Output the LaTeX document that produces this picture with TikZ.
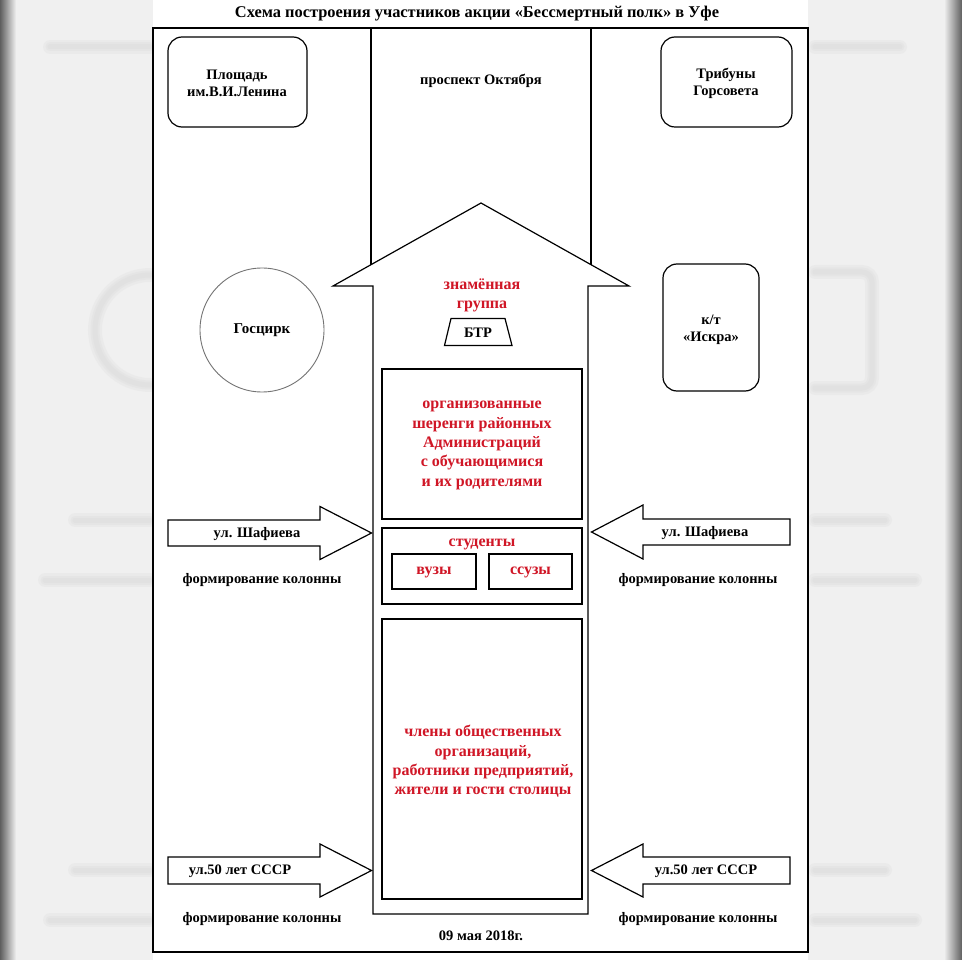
\documentclass[tikz,border=0pt]{standalone}
\usepackage{fontspec}
\setmainfont{Liberation Serif}
\definecolor{redtxt}{RGB}{208,22,38}
\definecolor{bggray}{RGB}{240,240,240}
\definecolor{edgegray}{RGB}{95,95,95}
\definecolor{ghost}{RGB}{200,200,200}
\begin{document}
\begin{tikzpicture}[x=1pt,y=-1pt,
  pageframe/.style={draw=black,line width=1.3pt},
  outl/.style={draw=black,line width=1.2pt,line join=miter},
  blk/.style={font=\bfseries\fontsize{14.5}{17.5}\selectfont,align=center,inner sep=0pt,text=black},
  redt/.style={font=\bfseries\fontsize{16}{19.4}\selectfont,align=center,inner sep=0pt,text=redtxt},
  ghostline/.style={draw=ghost,line cap=round,opacity=0.13}]
\useasboundingbox (0,0) rectangle (962,960);
% background outside the page (blurred copy)
\fill[bggray] (0,0) rectangle (962,960);
\foreach \w in {14,9,5}{
  \draw[ghostline,line width=\w pt] (50,47) -- (150,47);
  \draw[ghostline,line width=\w pt] (75,520) -- (150,520);
  \draw[ghostline,line width=\w pt] (45,580) -- (150,580);
  \draw[ghostline,line width=\w pt] (75,870) -- (150,870);
  \draw[ghostline,line width=\w pt] (50,920) -- (150,920);
  \draw[ghostline,line width=\w pt] (815,47) -- (900,47);
  \draw[ghostline,line width=\w pt] (815,520) -- (885,520);
  \draw[ghostline,line width=\w pt] (815,580) -- (915,580);
  \draw[ghostline,line width=\w pt] (815,870) -- (885,870);
  \draw[ghostline,line width=\w pt] (815,920) -- (915,920);
  \draw[ghostline,line width=\w pt] (150,275) arc[start angle=-90,end angle=-270,radius=55];
  \draw[ghostline,line width=\w pt,rounded corners=10pt] (815,272) -- (872,272) -- (872,388) -- (815,388);
}
\shade[left color=edgegray,right color=bggray] (0,0) rectangle (16,960);
\shade[left color=bggray,right color=edgegray] (944,0) rectangle (962,960);
\fill[white] (153,0) rectangle (808,960);
% title
\node[blk,font=\bfseries\fontsize{16.4}{19}\selectfont] (title) at (477,14) {Схема построения участников акции «Бессмертный полк» в Уфе};
% frame
\draw[pageframe] (153,28) rectangle (808,952);
% street lines
\draw[outl] (371,28) -- (371,264.7);
\draw[outl] (591,28) -- (591,264.7);
% top boxes
\draw[outl,rounded corners=14pt] (168,37) rectangle (307,127);
\node[blk] (ploshchad) at (237,83.5) {Площадь\\им.В.И.Ленина};
\node[blk] (prospekt) at (481,81) {проспект Октября};
\draw[outl,rounded corners=14pt] (661,37) rectangle (792,127);
\node[blk] (tribuny) at (726,83.5) {Трибуны\\Горсовета};
% circle
\draw[draw=gray!90!black,line width=0.9pt] (262,330) circle (62);
\node[blk,font=\bfseries\fontsize{15}{17.5}\selectfont] (gostsirk) at (262,330) {Госцирк};
% right rounded box
\draw[outl,rounded corners=14pt] (663,264) rectangle (759,391);
\node[blk] (iskra) at (711,330) {к/т\\«Искра»};
% big arrow
\draw[outl] (373,914) -- (373,286) -- (333,286) -- (481,203) -- (629,286) -- (588,286) -- (588,914) -- cycle;
\node[redt] (znam) at (482,295.5) {знамённая\\группа};
\draw[outl] (451,318.5) -- (505,318.5) -- (512,345.5) -- (444.5,345.5) -- cycle;
\node[blk] (btr) at (478,333) {БТР};
% inner boxes
\draw[outl] (382,369) rectangle (582,519);
\node[redt] (org) at (482,445.5) {организованные\\шеренги районных\\Администраций\\ с обучающимися\\и их родителями};
\draw[outl] (382,528) rectangle (582,604);
\node[redt] (stud) at (482,544.5) {студенты};
\draw[outl] (392,554) rectangle (476,589);
\node[redt] (vuzy) at (434,572) {вузы};
\draw[outl] (489,554) rectangle (572,589);
\node[redt] (ssuzy) at (530.5,572) {ссузы};
\draw[outl] (382,619) rectangle (582,899);
\node[redt] (chleny) at (483,761.5) {члены общественных\\организаций,\\работники предприятий,\\жители и гости столицы};
% side arrows
\draw[outl] (168,520) -- (320,520) -- (320,506.5) -- (371.5,533) -- (320,559.5) -- (320,546) -- (168,546) -- cycle;
\node[blk] (shafl) at (257,534) {ул. Шафиева};
\node[blk] (forml1) at (262,580) {формирование колонны};
\draw[outl] (790,519) -- (643,519) -- (643,505) -- (591.5,532) -- (643,559) -- (643,545) -- (790,545) -- cycle;
\node[blk] (shafr) at (705,533) {ул. Шафиева};
\node[blk] (formr1) at (698,580) {формирование колонны};
\draw[outl] (168,857) -- (320,857) -- (320,844) -- (371.5,870.5) -- (320,897) -- (320,884) -- (168,884) -- cycle;
\node[blk] (sssrl) at (240,871) {ул.50 лет СССР};
\node[blk] (forml2) at (262,919) {формирование колонны};
\draw[outl] (790,857) -- (643,857) -- (643,844) -- (591.5,870.5) -- (643,897) -- (643,884) -- (790,884) -- cycle;
\node[blk] (sssrr) at (706,871) {ул.50 лет СССР};
\node[blk] (formr2) at (698,919) {формирование колонны};
% date
\node[blk] (date) at (481,936) {09 мая 2018г.};
\end{tikzpicture}
\end{document}
